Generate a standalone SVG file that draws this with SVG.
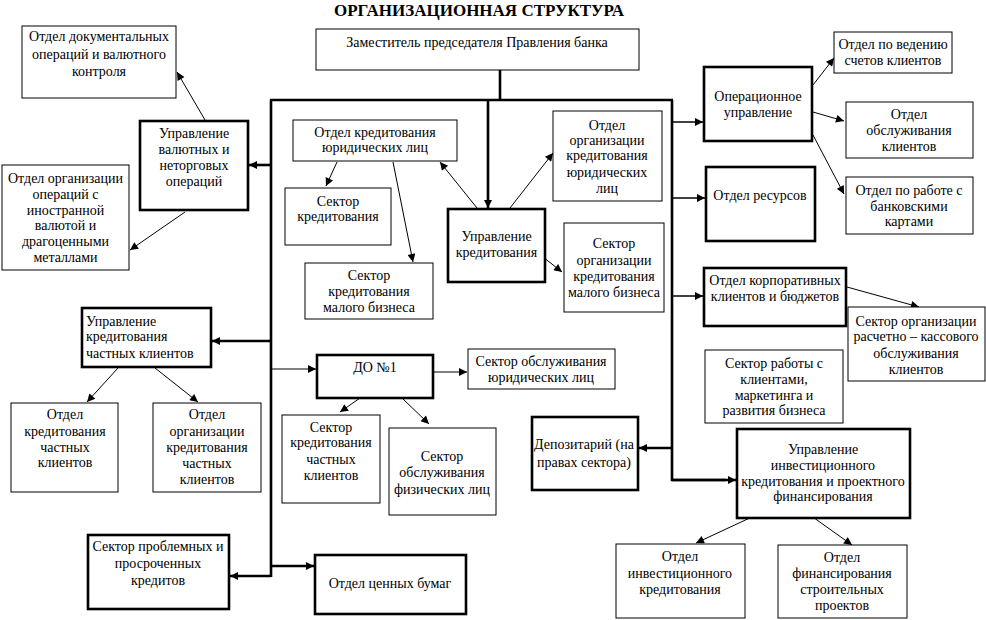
<svg xmlns="http://www.w3.org/2000/svg" width="986" height="620" viewBox="0 0 986 620">
<defs>
<style>
.b{fill:#fff;stroke:#000;stroke-width:1}
.t{fill:#fff;stroke:#000;stroke-width:2.6}
text{font-family:"Liberation Serif","Times New Roman",serif;font-size:14px;fill:#000;text-anchor:middle}
.l{text-anchor:start}
.title{font-size:17px;font-weight:bold}
.c path{fill:none;stroke:#000}
.w{stroke-width:1}
.k{stroke-width:2.6}
.m{stroke-width:1.5}
</style>
<marker id="a" viewBox="0 0 10 10" refX="10" refY="5" markerWidth="10" markerHeight="8" markerUnits="userSpaceOnUse" orient="auto"><path d="M0,0L10,5L0,10z" fill="#000"/></marker>
</defs>
<rect width="986" height="620" fill="#fff"/>
<text class="title" x="479" y="16">ОРГАНИЗАЦИОННАЯ СТРУКТУРА</text>

<g class="c">
<path class="k" d="M271,100V577M270,100H673M672,100V480H726"/>
<path class="k" d="M500,70V100"/>
<path class="k" d="M488,100V208" marker-end="url(#a)"/>
<path class="k" d="M271,165H249" marker-end="url(#a)"/>
<path class="k" d="M271,341H212" marker-end="url(#a)"/>
<path class="k" d="M271,576H230" marker-end="url(#a)"/>
<path class="k" d="M271,566H314" marker-end="url(#a)"/>
<path class="w" d="M271,369H316" marker-end="url(#a)"/>
<path class="m" d="M672,122H703" marker-end="url(#a)"/>
<path class="m" d="M672,198H705" marker-end="url(#a)"/>
<path class="m" d="M672,296H703" marker-end="url(#a)"/>
<path class="k" d="M672,448H639" marker-end="url(#a)"/>
<path class="k" d="M672,480H736" marker-end="url(#a)"/>
<path class="w" d="M205,120L177,72" marker-end="url(#a)"/>
<path class="w" d="M185,212L130,250" marker-end="url(#a)"/>
<path class="w" d="M477,208L440,162" marker-end="url(#a)"/>
<path class="w" d="M510,208L553,153" marker-end="url(#a)"/>
<path class="w" d="M543,257L562,272" marker-end="url(#a)"/>
<path class="w" d="M337,162L326,186" marker-end="url(#a)"/>
<path class="w" d="M393,162L413,262" marker-end="url(#a)"/>
<path class="w" d="M118,368L87,402" marker-end="url(#a)"/>
<path class="w" d="M155,368L198,402" marker-end="url(#a)"/>
<path class="w" d="M360,398L340,412" marker-end="url(#a)"/>
<path class="w" d="M402,398L429,424" marker-end="url(#a)"/>
<path class="w" d="M433,372H467" marker-end="url(#a)"/>
<path class="w" d="M813,85L834,58" marker-end="url(#a)"/>
<path class="w" d="M813,112L844,121" marker-end="url(#a)"/>
<path class="w" d="M813,135L844,194" marker-end="url(#a)"/>
<path class="w" d="M847,287L919,307" marker-end="url(#a)"/>
<path class="w" d="M754,516L696,543" marker-end="url(#a)"/>
<path class="w" d="M810,515L852,545" marker-end="url(#a)"/>
</g>

<g id="n1"><rect class="b" x="316" y="29" width="323" height="41"/><text x="477" y="47">Заместитель председателя Правления банка</text></g>
<g id="n2"><rect class="b" x="22" y="26" width="154" height="72"/><text x="99" y="41">Отдел документальных</text><text x="99" y="59">операций и валютного</text><text x="99" y="76">контроля</text></g>
<g id="n3"><rect class="t" x="140" y="121" width="108" height="89"/><text x="194" y="138">Управление</text><text x="194" y="154">валютных и</text><text x="194" y="170">неторговых</text><text x="194" y="186">операций</text></g>
<g id="n4"><rect class="b" x="2" y="165" width="127" height="105"/><text x="65.5" y="183">Отдел организации</text><text x="65.5" y="199">операций с</text><text x="65.5" y="215">иностранной</text><text x="65.5" y="230">валютой и</text><text x="65.5" y="246">драгоценными</text><text x="65.5" y="262">металлами</text></g>
<g id="n5"><rect class="b" x="293" y="120" width="164" height="41"/><text x="375" y="137">Отдел кредитования</text><text x="375" y="152">юридических лиц</text></g>
<g id="n6"><rect class="b" x="285" y="188" width="106" height="57"/><text x="338" y="206">Сектор</text><text x="338" y="221">кредитования</text></g>
<g id="n7"><rect class="b" x="305" y="263" width="128" height="56"/><text x="369" y="280">Сектор</text><text x="369" y="296">кредитования</text><text x="369" y="312">малого бизнеса</text></g>
<g id="n8"><rect class="t" x="448" y="209" width="97" height="73"/><text x="496.5" y="241">Управление</text><text x="496.5" y="257">кредитования</text></g>
<g id="n9"><rect class="b" x="553" y="111" width="109" height="90"/><text x="607" y="130">Отдел</text><text x="607" y="145">организации</text><text x="607" y="160">кредитования</text><text x="607" y="177">юридических</text><text x="607" y="193">лиц</text></g>
<g id="n10"><rect class="b" x="564" y="223" width="100" height="89"/><text x="614" y="248">Сектор</text><text x="614" y="265">организации</text><text x="614" y="281">кредитования</text><text x="614" y="297">малого бизнеса</text></g>
<g id="n11"><rect class="t" x="82" y="308" width="129" height="59"/><text class="l" x="86" y="326">Управление</text><text class="l" x="86" y="341">кредитования</text><text class="l" x="86" y="358">частных клиентов</text></g>
<g id="n12"><rect class="b" x="11" y="403" width="107" height="89"/><text x="65" y="419">Отдел</text><text x="65" y="436">кредитования</text><text x="65" y="452">частных</text><text x="65" y="467">клиентов</text></g>
<g id="n13"><rect class="b" x="153" y="403" width="108" height="89"/><text x="207" y="419">Отдел</text><text x="207" y="436">организации</text><text x="207" y="452">кредитования</text><text x="207" y="468">частных</text><text x="207" y="484">клиентов</text></g>
<g id="n14"><rect class="t" x="317" y="355" width="116" height="43"/><text x="375" y="372">ДО №1</text></g>
<g id="n15"><rect class="b" x="468" y="349" width="147" height="40"/><text x="541" y="366">Сектор обслуживания</text><text x="541" y="382">юридических лиц</text></g>
<g id="n16"><rect class="b" x="282" y="415" width="98" height="88"/><text x="331" y="432">Сектор</text><text x="331" y="447">кредитования</text><text x="331" y="464">частных</text><text x="331" y="480">клиентов</text></g>
<g id="n17"><rect class="b" x="389" y="428" width="107" height="87"/><text x="442" y="461">Сектор</text><text x="442" y="477">обслуживания</text><text x="442" y="494">физических лиц</text></g>
<g id="n18"><rect class="t" x="88" y="535" width="141" height="74"/><text x="158" y="551">Сектор проблемных и</text><text x="158" y="568">просроченных</text><text x="158" y="585">кредитов</text></g>
<g id="n19"><rect class="t" x="315" y="555" width="151" height="59"/><text x="390" y="588">Отдел ценных бумаг</text></g>
<g id="n20"><rect class="t" x="704" y="67" width="108" height="74"/><text x="758" y="101">Операционное</text><text x="758" y="117">управление</text></g>
<g id="n21"><rect class="b" x="834" y="32" width="118" height="41"/><text x="893" y="49">Отдел по ведению</text><text x="893" y="65">счетов клиентов</text></g>
<g id="n22"><rect class="b" x="846" y="102" width="127" height="56"/><text x="909" y="119">Отдел</text><text x="909" y="135">обслуживания</text><text x="909" y="151">клиентов</text></g>
<g id="n23"><rect class="b" x="846" y="177" width="127" height="57"/><text x="909" y="195">Отдел по работе с</text><text x="909" y="211">банковскими</text><text x="909" y="226">картами</text></g>
<g id="n24"><rect class="t" x="706" y="167" width="109" height="74"/><text x="760" y="200">Отдел ресурсов</text></g>
<g id="n25"><rect class="t" x="704" y="268" width="142" height="58"/><text x="775" y="285">Отдел корпоративных</text><text x="775" y="301">клиентов и бюджетов</text></g>
<g id="n26"><rect class="b" x="848" y="307" width="137" height="74"/><text x="916" y="326">Сектор организации</text><text x="916" y="341">расчетно – кассового</text><text x="916" y="358">обслуживания</text><text x="916" y="374">клиентов</text></g>
<g id="n27"><rect class="b" x="705" y="350" width="138" height="73"/><text x="774" y="368">Сектор работы с</text><text x="774" y="384">клиентами,</text><text x="774" y="400">маркетинга и</text><text x="774" y="415">развития бизнеса</text></g>
<g id="n28"><rect class="t" x="532" y="417" width="106" height="73"/><text x="584" y="449">Депозитарий (на</text><text x="584" y="467">правах сектора)</text></g>
<g id="n29"><rect class="t" x="737" y="429" width="173" height="89"/><text x="823" y="454">Управление</text><text x="823" y="470">инвестиционного</text><text x="823" y="486">кредитования и проектного</text><text x="823" y="501">финансирования</text></g>
<g id="n30"><rect class="b" x="616" y="544" width="129" height="74"/><text x="680" y="561">Отдел</text><text x="680" y="578">инвестиционного</text><text x="680" y="594">кредитования</text></g>
<g id="n31"><rect class="b" x="778" y="545" width="129" height="73"/><text x="842" y="562">Отдел</text><text x="842" y="578">финансирования</text><text x="842" y="594">строительных</text><text x="842" y="610">проектов</text></g>
</svg>
